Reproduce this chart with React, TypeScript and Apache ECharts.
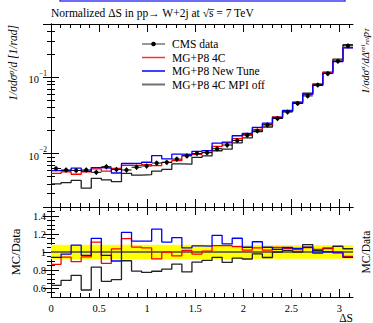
import React, { useEffect, useRef } from 'react';
import * as echarts from 'echarts';

// ---------------- data ----------------
const X_MIN = 0;
const X_MAX = Math.PI;
const N_BINS = 30;

const cmsData = [
  0.00639, 0.00611, 0.00602, 0.00611, 0.0057, 0.00674, 0.0062, 0.00611, 0.00664, 0.00689,
  0.00753, 0.00769, 0.00848, 0.00934, 0.01006, 0.0103, 0.01161, 0.01297, 0.01489, 0.01749,
  0.01989, 0.02379, 0.02891, 0.03511, 0.04555, 0.05714, 0.0794, 0.1121, 0.1628, 0.2588,
];
const dataRelErr = [
  0.08, 0.08, 0.08, 0.08, 0.08, 0.08, 0.08, 0.08, 0.08, 0.08,
  0.08, 0.08, 0.08, 0.08, 0.08, 0.08, 0.08, 0.08, 0.078, 0.078,
  0.075, 0.075, 0.075, 0.075, 0.075, 0.075, 0.075, 0.075, 0.075, 0.075,
];
const ratio4C = [
  0.863, 0.942, 0.893, 0.945, 1.11, 0.874, 1.034, 1.148, 1.055, 1.045,
  0.923, 0.998, 0.958, 1.017, 0.977, 1.01, 1.07, 1.07, 1.06, 1.02,
  1.045, 1.02, 1.05, 1.04, 1.027, 1.05, 1.03, 1.045, 1.0, 0.95,
];
const ratioNewTune = [
  0.94, 0.977, 1.076, 0.962, 1.152, 0.962, 0.9, 1.217, 1.12, 1.12,
  1.255, 1.11, 1.16, 1.045, 1.068, 1.066, 1.185, 1.09, 1.153, 1.053,
  1.114, 1.053, 1.03, 1.05, 1.04, 1.053, 0.988, 1.003, 0.99, 0.94,
];
const ratioMPIoff = [
  0.63, 0.685, 0.741, 0.578, 0.833, 0.674, 0.692, 0.903, 0.788, 0.773,
  0.786, 0.809, 0.866, 0.779, 0.887, 0.906, 0.941, 0.884, 0.931, 0.922,
  0.98, 0.939, 1.0, 1.017, 1.0, 1.083, 1.015, 1.038, 1.064, 1.036,
];

const xMajorTicks = [0, 0.5, 1, 1.5, 2, 2.5, 3];
const xMinorTicks = [
  0.1, 0.2, 0.3, 0.4, 0.6, 0.7, 0.8, 0.9, 1.1, 1.2, 1.3, 1.4, 1.6, 1.7, 1.8, 1.9,
  2.1, 2.2, 2.3, 2.4, 2.6, 2.7, 2.8, 2.9, 3.1,
];
const yTopMin = 0.002;
const yTopMax = 0.5;
const yTopMinorTicks = [
  0.003, 0.004, 0.005, 0.006, 0.007, 0.008, 0.009,
  0.02, 0.03, 0.04, 0.05, 0.06, 0.07, 0.08, 0.09,
  0.2, 0.3, 0.4,
];
const yRatioMin = 0.5;
const yRatioMax = 1.5;
const yRatioMajorTicks = [0.6, 0.8, 1, 1.2, 1.4];
const yRatioMinorTicks = [
  0.55, 0.65, 0.7, 0.75, 0.85, 0.9, 0.95, 1.05, 1.1, 1.15, 1.25, 1.3, 1.35, 1.45,
];

const legendLabels = ['CMS data', 'MG+P8 4C', 'MG+P8 New Tune', 'MG+P8 4C MPI off'];

// ---------------- styling ----------------
const FONT = 'Liberation Serif';
const RED = '#ff0000';
const BLUE = '#0000ff';
const DARK = '#222222';

const binWidth = (X_MAX - X_MIN) / N_BINS;
const edge = (i: number) => X_MIN + i * binWidth;
const stepData = (vals: number[]) => [
  ...vals.map((v, i) => [edge(i), v]),
  [X_MAX, vals[vals.length - 1]],
];

const mc4C = cmsData.map((d, i) => d * ratio4C[i]);
const mcNewTune = cmsData.map((d, i) => d * ratioNewTune[i]);
const mcMPIoff = cmsData.map((d, i) => d * ratioMPIoff[i]);

const TOP = { left: 51, top: 24, width: 302, height: 183 };
const BOT = { left: 51, top: 207, width: 302, height: 90 };

const tickLabelStyle = { fontFamily: FONT, fontSize: 10.5, color: '#000' };

function majorX(gridIndex: number, position: string, showLabels: boolean) {
  return {
    type: 'value', gridIndex, position, min: X_MIN, max: X_MAX,
    axisLine: { show: true, onZero: false, lineStyle: { color: '#000', width: 1 } },
    axisTick: { show: true, inside: true, length: 8, customValues: xMajorTicks, lineStyle: { color: '#000' } },
    axisLabel: showLabels
      ? { show: true, customValues: xMajorTicks, margin: 6, ...tickLabelStyle, formatter: (v: number) => String(v) }
      : { show: false },
    splitLine: { show: false },
  };
}
function minorX(gridIndex: number, position: string) {
  return {
    type: 'value', gridIndex, position, min: X_MIN, max: X_MAX,
    axisLine: { show: false },
    axisTick: { show: true, inside: true, length: 4, customValues: xMinorTicks, lineStyle: { color: '#000' } },
    axisLabel: { show: false },
    splitLine: { show: false },
  };
}

const logLabelFormatter = (v: number) => {
  const l = Math.log10(v);
  const r = Math.round(l);
  if (Math.abs(l - r) > 1e-6) return '';
  return `{b|10}{sup|${r < 0 ? '\u2212' + -r : r}}`;
};

export default function App() {
  const ref = useRef<HTMLDivElement>(null);
  useEffect(() => {
    if (!ref.current) return;
    const chart = echarts.init(ref.current, undefined, { renderer: 'svg' });

    const option: any = {
      animation: false,
      backgroundColor: '#fff',
      grid: [
        { ...TOP, containLabel: false },
        { ...TOP, containLabel: false },
        { ...BOT, containLabel: false },
        { ...BOT, containLabel: false },
      ],
      xAxis: [
        majorX(0, 'bottom', false),
        majorX(0, 'top', false),
        minorX(1, 'bottom'),
        minorX(1, 'top'),
        majorX(2, 'bottom', true),
        majorX(2, 'top', false),
        minorX(3, 'bottom'),
        minorX(3, 'top'),
      ],
      yAxis: [
        {
          type: 'log', logBase: 10, gridIndex: 0, position: 'left', min: yTopMin, max: yTopMax,
          axisLine: { show: true, lineStyle: { color: '#000' } },
          axisTick: { show: true, inside: true, length: 8, lineStyle: { color: '#000' } },
          axisLabel: {
            show: true, margin: 4, formatter: logLabelFormatter,
            showMinLabel: false, showMaxLabel: false,
            rich: {
              b: { fontFamily: FONT, fontSize: 10.5, lineHeight: 16, verticalAlign: 'bottom', color: '#000' },
              sup: { fontFamily: FONT, fontSize: 7.5, lineHeight: 9, verticalAlign: 'top', color: '#000' },
            },
          },
          splitLine: { show: false },
        },
        {
          type: 'log', logBase: 10, gridIndex: 0, position: 'right', min: yTopMin, max: yTopMax,
          axisLine: { show: true, lineStyle: { color: '#000' } },
          axisTick: { show: true, inside: true, length: 8, lineStyle: { color: '#000' } },
          axisLabel: { show: false },
          splitLine: { show: false },
        },
        {
          type: 'value', gridIndex: 1, position: 'left', min: Math.log10(yTopMin), max: Math.log10(yTopMax),
          axisLine: { show: false },
          axisTick: { show: true, inside: true, length: 4, customValues: yTopMinorTicks.map(Math.log10), lineStyle: { color: '#000' } },
          axisLabel: { show: false }, splitLine: { show: false },
        },
        {
          type: 'value', gridIndex: 1, position: 'right', min: Math.log10(yTopMin), max: Math.log10(yTopMax),
          axisLine: { show: false },
          axisTick: { show: true, inside: true, length: 4, customValues: yTopMinorTicks.map(Math.log10), lineStyle: { color: '#000' } },
          axisLabel: { show: false }, splitLine: { show: false },
        },
        {
          type: 'value', gridIndex: 2, position: 'left', min: yRatioMin, max: yRatioMax,
          axisLine: { show: true, lineStyle: { color: '#000' } },
          axisTick: { show: true, inside: true, length: 8, customValues: yRatioMajorTicks, lineStyle: { color: '#000' } },
          axisLabel: { show: true, customValues: yRatioMajorTicks, margin: 5, ...tickLabelStyle, formatter: (v: number) => String(v) },
          splitLine: { show: false },
        },
        {
          type: 'value', gridIndex: 2, position: 'right', min: yRatioMin, max: yRatioMax,
          axisLine: { show: true, lineStyle: { color: '#000' } },
          axisTick: { show: true, inside: true, length: 8, customValues: yRatioMajorTicks, lineStyle: { color: '#000' } },
          axisLabel: { show: false }, splitLine: { show: false },
        },
        {
          type: 'value', gridIndex: 3, position: 'left', min: yRatioMin, max: yRatioMax,
          axisLine: { show: false },
          axisTick: { show: true, inside: true, length: 4, customValues: yRatioMinorTicks, lineStyle: { color: '#000' } },
          axisLabel: { show: false }, splitLine: { show: false },
        },
        {
          type: 'value', gridIndex: 3, position: 'right', min: yRatioMin, max: yRatioMax,
          axisLine: { show: false },
          axisTick: { show: true, inside: true, length: 4, customValues: yRatioMinorTicks, lineStyle: { color: '#000' } },
          axisLabel: { show: false }, splitLine: { show: false },
        },
      ],
      series: [
        // ---- upper panel
        {
          name: legendLabels[3], type: 'line', xAxisIndex: 0, yAxisIndex: 0, step: 'end',
          data: stepData(mcMPIoff), symbol: 'none', silent: true,
          lineStyle: { color: DARK, width: 1.3 }, z: 2,
        },
        {
          name: legendLabels[1], type: 'line', xAxisIndex: 0, yAxisIndex: 0, step: 'end',
          data: stepData(mc4C), symbol: 'none', silent: true,
          lineStyle: { color: RED, width: 1.3 }, z: 3,
        },
        {
          name: legendLabels[2], type: 'line', xAxisIndex: 0, yAxisIndex: 0, step: 'end',
          data: stepData(mcNewTune), symbol: 'none', silent: true,
          lineStyle: { color: BLUE, width: 1.3 }, z: 4,
        },
        {
          name: legendLabels[0], type: 'custom', xAxisIndex: 0, yAxisIndex: 0, z: 5, silent: true,
          data: cmsData.map((v, i) => [edge(i), edge(i + 1), v, dataRelErr[i]]),
          encode: { x: [0, 1], y: 2 },
          renderItem: (_p: any, api: any) => {
            const x0 = api.value(0), x1 = api.value(1), v = api.value(2), e = api.value(3);
            const xc = (x0 + x1) / 2;
            const pL = api.coord([x0, v]);
            const pR = api.coord([x1, v]);
            const pT = api.coord([xc, v * (1 + e)]);
            const pB = api.coord([xc, v * (1 - e)]);
            const pc = api.coord([xc, v]);
            return {
              type: 'group',
              children: [
                { type: 'line', shape: { x1: pL[0], y1: pL[1], x2: pR[0], y2: pR[1] }, style: { stroke: '#000', lineWidth: 1 } },
                { type: 'line', shape: { x1: pT[0], y1: pT[1], x2: pB[0], y2: pB[1] }, style: { stroke: '#000', lineWidth: 1 } },
                { type: 'circle', shape: { cx: pc[0], cy: pc[1], r: 2.1 }, style: { fill: '#000' } },
              ],
            };
          },
        },
        // ---- ratio panel
        {
          type: 'custom', xAxisIndex: 4, yAxisIndex: 4, z: 1, silent: true,
          data: dataRelErr.map((e, i) => [edge(i), edge(i + 1), e]),
          encode: { x: [0, 1], y: 2 },
          renderItem: (_p: any, api: any) => {
            const x0 = api.value(0), x1 = api.value(1), e = api.value(2);
            const a = api.coord([x0, 1 + e]);
            const b = api.coord([x1, 1 - e]);
            return {
              type: 'rect',
              shape: { x: a[0], y: a[1], width: b[0] - a[0] + 0.5, height: b[1] - a[1] },
              style: { fill: '#ffff00' },
            };
          },
        },
        {
          type: 'line', xAxisIndex: 4, yAxisIndex: 4, data: [[X_MIN, 1], [X_MAX, 1]],
          symbol: 'none', silent: true, lineStyle: { color: '#444', width: 1.6 }, z: 2,
        },
        {
          type: 'line', xAxisIndex: 4, yAxisIndex: 4, step: 'end', data: stepData(ratioMPIoff),
          symbol: 'none', silent: true, lineStyle: { color: DARK, width: 1.3 }, z: 3,
        },
        {
          type: 'line', xAxisIndex: 4, yAxisIndex: 4, step: 'end', data: stepData(ratio4C),
          symbol: 'none', silent: true, lineStyle: { color: RED, width: 1.3 }, z: 4,
        },
        {
          type: 'line', xAxisIndex: 4, yAxisIndex: 4, step: 'end', data: stepData(ratioNewTune),
          symbol: 'none', silent: true, lineStyle: { color: BLUE, width: 1.3 }, z: 5,
        },
      ],
      graphic: [
        // blue frame fragment at the top
        {
          type: 'rect', shape: { x: 60, y: -20, width: 285, height: 21 },
          style: { fill: 'none', stroke: '#3b3bf5', lineWidth: 1.5 }, silent: true,
        },
        // title
        {
          type: 'text', x: 51, y: 13,
          style: {
            text: 'Normalized \u0394S in pp\u2192 W+2j at \u221As\u0305 = 7 TeV',
            fontFamily: FONT, fontSize: 11.5, fill: '#000', align: 'left', verticalAlign: 'middle',
          },
        },
        // legend
        { type: 'line', shape: { x1: 142, y1: 44, x2: 165, y2: 44 }, style: { stroke: '#333', lineWidth: 1 } },
        { type: 'circle', shape: { cx: 153.5, cy: 44, r: 2.3 }, style: { fill: '#000' } },
        { type: 'line', shape: { x1: 142, y1: 57.5, x2: 165, y2: 57.5 }, style: { stroke: '#ff3030', lineWidth: 1.5 } },
        { type: 'line', shape: { x1: 142, y1: 71, x2: 165, y2: 71 }, style: { stroke: BLUE, lineWidth: 1.5 } },
        { type: 'line', shape: { x1: 142, y1: 84.5, x2: 165, y2: 84.5 }, style: { stroke: '#707070', lineWidth: 2 } },
        ...legendLabels.map((t, i) => ({
          type: 'text', x: 172, y: [44, 57.5, 71, 84.5][i],
          style: { text: t, fontFamily: FONT, fontSize: 11.5, fill: '#000', align: 'left', verticalAlign: 'middle' },
        })),
        // y axis titles (left)
        {
          type: 'text', x: 13, y: 25, rotation: Math.PI / 2,
          style: {
            text: '1/\u03C3d\u03C3{sup|\u03C3}/d [1/rad]',
            fontFamily: FONT, fontSize: 11.5, fontStyle: 'italic', fill: '#000',
            align: 'right', verticalAlign: 'middle',
            rich: { sup: { fontFamily: FONT, fontSize: 8, fontStyle: 'italic', verticalAlign: 'top', fill: '#000' } },
          },
        },
        {
          type: 'text', x: 16, y: 252, rotation: Math.PI / 2,
          style: { text: 'MC/Data', fontFamily: FONT, fontSize: 12.5, fill: '#000', align: 'center', verticalAlign: 'middle' },
        },
        // y axis titles (right)
        {
          type: 'text', x: 365, y: 28, rotation: Math.PI / 2,
          style: {
            text: '1/\u03C3d\u03C3{sup|\u03C3}/d\u0394{sup|rel}{sub|rel}p{sub|T}',
            fontFamily: FONT, fontSize: 10.5, fontStyle: 'italic', fill: '#000',
            align: 'right', verticalAlign: 'middle',
            rich: {
              sup: { fontFamily: FONT, fontSize: 7, fontStyle: 'italic', verticalAlign: 'top', fill: '#000' },
              sub: { fontFamily: FONT, fontSize: 7, fontStyle: 'italic', verticalAlign: 'bottom', fill: '#000' },
            },
          },
        },
        {
          type: 'text', x: 366, y: 252, rotation: Math.PI / 2,
          style: { text: 'MC/Data', fontFamily: FONT, fontSize: 11.5, fill: '#000', align: 'center', verticalAlign: 'middle' },
        },
        // x axis title
        {
          type: 'text', x: 353, y: 318,
          style: { text: '\u0394S', fontFamily: FONT, fontSize: 11.5, fill: '#000', align: 'right', verticalAlign: 'middle' },
        },
      ],
    };

    chart.setOption(option);
    return () => chart.dispose();
  }, []);

  return (
    <div
      ref={ref}
      style={{ position: 'fixed', left: 0, top: 0, width: 373, height: 323, background: '#fff' }}
    />
  );
}
